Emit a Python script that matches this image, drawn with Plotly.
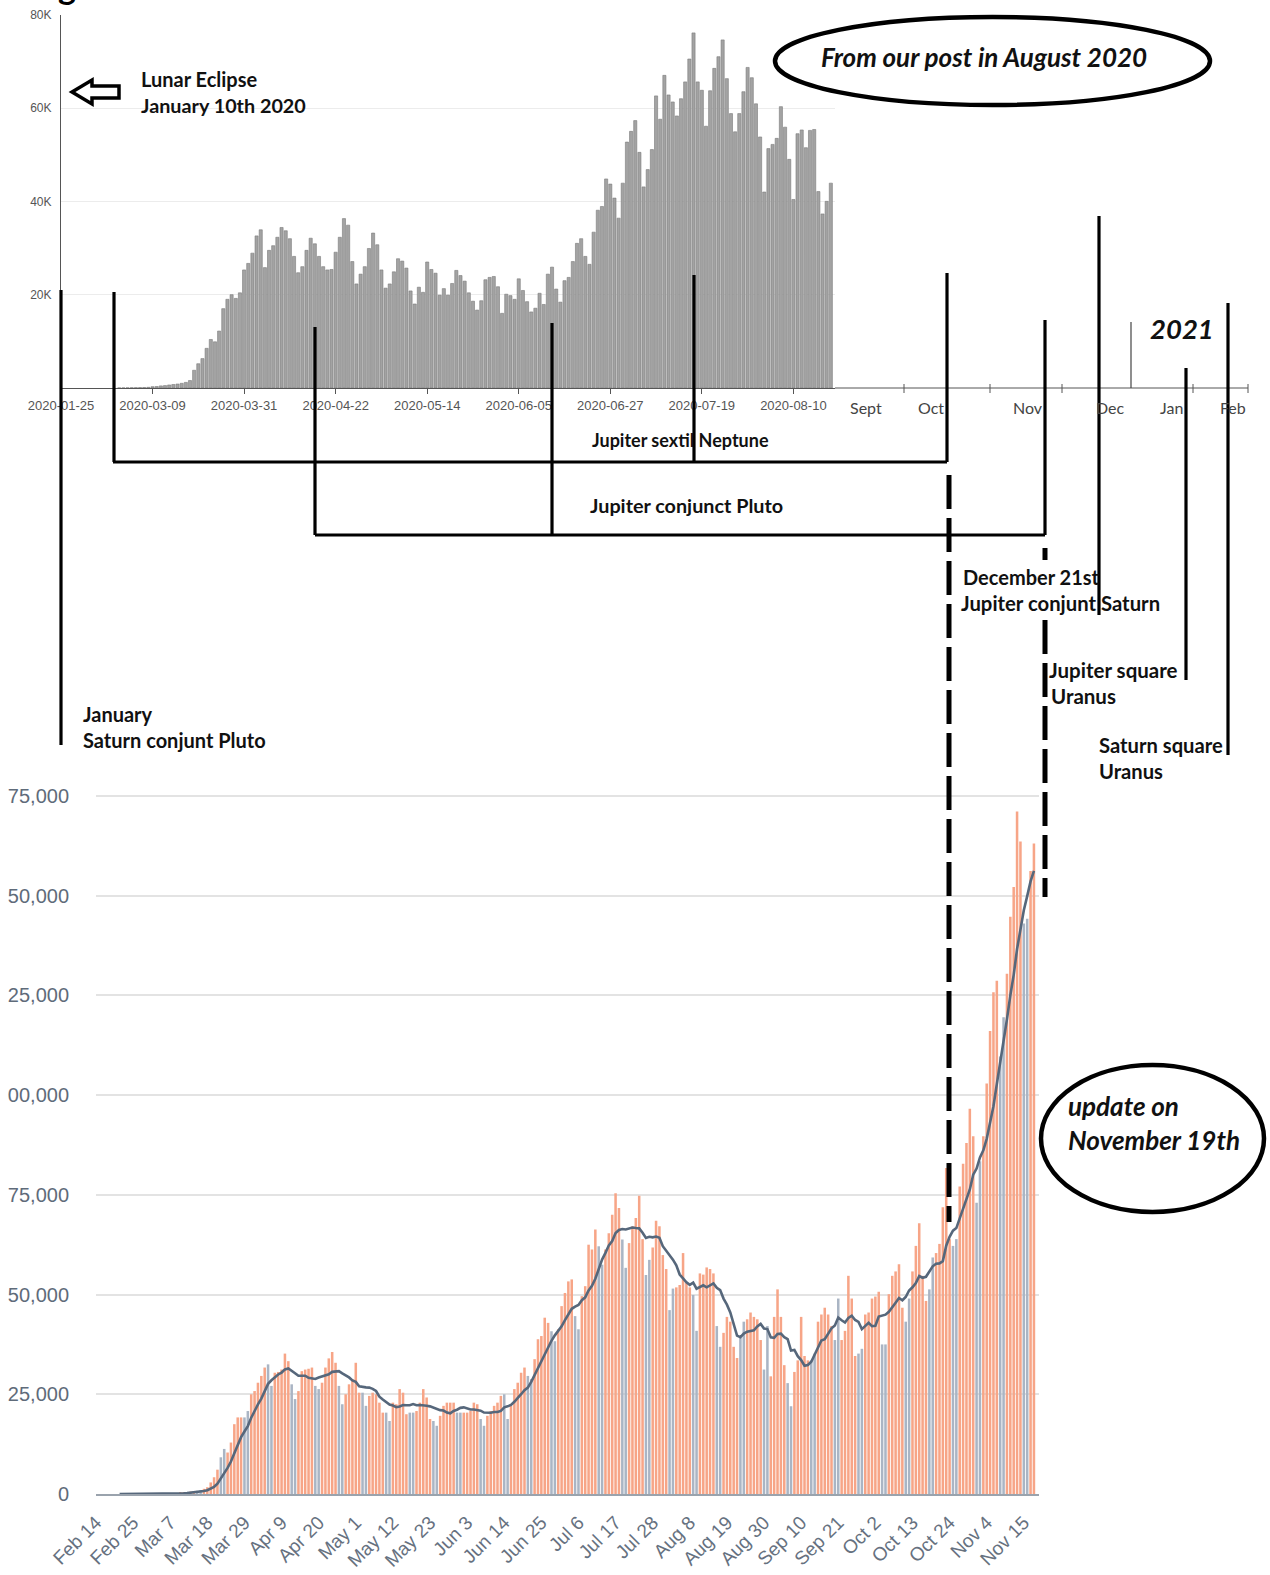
import pandas as pd
import plotly.graph_objects as go

W, H = 1270, 1575

# ---------------- data ----------------
# Top chart (post from August 2020): daily new cases, thousands, from 2020-03-01
top_start = "2020-03-01"
top_values_k = [
    0.02, 0.025, 0.04, 0.06, 0.07, 0.09, 0.11, 0.15, 0.28, 0.32,
    0.45, 0.52, 0.65, 0.75, 0.85, 1.0, 1.2,
    1.6, 3.8, 5.2, 6.3, 8.5, 10.4, 9.9, 12.2, 17, 19,
    20, 19.2, 20.4, 25.3, 26.7, 28.9, 32.6, 33.9, 25.8, 29.5,
    30.5, 32.3, 34.4, 33.7, 32, 28.2, 24.7, 26, 29.5, 32.1,
    30.9, 28.2, 26, 25.3, 25.4, 29.1, 32.3, 36.3, 34.9, 27.1,
    22.3, 24.4, 26, 29.9, 33.2, 30.7, 25.3, 21.4, 22.3, 24.9,
    27.7, 27.2, 25.7, 20.8, 18, 21.6, 20.5, 27, 25.4, 24.6,
    19.9, 21.3, 19.9, 22.4, 25.2, 24.1, 22.9, 20.4, 18.6, 16.7,
    18.7, 23.2, 23.7, 23.9, 21.7, 16, 20.1, 19.8, 19, 23.4,
    20.9, 18.5, 16.3, 17.1, 20.3, 17.9, 24.4, 25.9, 21.2, 18.4,
    23, 23.7, 27.1, 31, 32, 28.2, 26.5, 33.4, 38.1, 38.9,
    44.8, 43.7, 40.7, 36.4, 43.9,
    52.7, 55, 57.3, 50.5, 43.1, 46.8, 51.1, 62.6, 57.6, 67,
    62.8, 61.3, 58.3, 62, 65.6, 70.5, 76.1, 65.6, 63.8, 56.1,
    63.7, 68.5, 71, 74.6, 66.3, 58.8, 54.9, 58.8, 63.5, 68.7, 66.5,
    60.9, 53.8, 42, 51.3, 52.2, 53.5, 60.3, 55.9, 49, 40.4,
    54.5, 55.3, 51.5, 55.2, 55.4, 42.1, 37.3, 40, 43.9,
]
top_tick_dates = ["2020-02-16", "2020-03-09", "2020-03-31", "2020-04-22", "2020-05-14",
                  "2020-06-05", "2020-06-27", "2020-07-19", "2020-08-10"]
top_tick_labels = ["2020-01-25", "2020-03-09", "2020-03-31", "2020-04-22", "2020-05-14",
                   "2020-06-05", "2020-06-27", "2020-07-19", "2020-08-10"]
top_y_ticks = [20000, 40000, 60000, 80000]
top_y_labels = ["20K", "40K", "60K", "80K"]
extra_month_labels = ["Sept", "Oct", "Nov", "Dec", "Jan", "Feb"]

# Bottom chart (update on November 19th): daily new cases, thousands, from 2020-02-15
bottom_start = "2020-02-15"
bottom_values_k = [
    0, 0, 0, 0, 0, 0, 0, 0, 0, 0, 0, 0.005, 0.01, 0.01, 0.015,
    0.01, 0.02, 0.025, 0.035, 0.055, 0.07, 0.09, 0.11, 0.18, 0.28,
    0.38, 0.43, 0.6, 0.7, 0.8, 1.0, 1.3,
    1.7, 2.9, 4.2, 6.1, 9.2, 11.3, 10.4, 12.9, 17.5, 19.2,
    19.2, 19.2, 20.8, 25, 25.8, 27.9, 29.6, 31.7, 32.5, 27.1,
    30.4, 30.6, 31.2, 35.2, 33.3, 27.5, 23.8, 25.8, 30.8, 31.2,
    31.4, 31.7, 27.1, 26.3, 27.9, 31.7, 34, 35.6, 32.9, 27.1,
    22.5, 25, 27.5, 28.8, 32.9, 25.4, 25.4, 22.1, 24.6, 25.4,
    25, 22.9, 20.4, 20.4, 18.3, 22.9, 22.5, 26.3, 25.4, 20,
    20.4, 20.4, 20.8, 22.9, 26.3, 24.2, 18.8, 18.3, 17.1, 19.6,
    22.1, 22.9, 22.9, 22.9, 20.4, 20.4, 20.4, 20.4, 20.8, 22.9,
    22.5, 18.8, 17.1, 19.6, 20.8, 22.1, 22.9, 24.6, 25, 18.8,
    22.1, 26.3, 27.9, 30.4, 31.7, 29.6, 28.8, 33.8, 38.8, 39.6,
    44.2, 42.9, 40.8, 38.3, 41.3, 47.1, 50.4, 53.3, 53.8, 44.6,
    41.3, 49.6, 52.1, 62.5, 61.3, 66.3, 62.1, 57.5, 61.3, 65.4,
    70, 75.4, 71.7, 63.8, 56.7, 62.9, 67.1, 69.2,
    74.8, 63.9, 54.9, 58.7, 61.8, 68.5, 67.1, 59.9, 56.4, 46.1,
    51.5, 51.8, 52.4, 60.4, 53, 51.8, 49.9, 40.9, 55.3, 55,
    56.8, 56.4, 55.3, 42.1, 36.9, 40.4, 44.4, 43.2, 36.9, 34.1,
    39.2, 43.2, 43.8, 45.5, 44.4, 43.8, 38.6, 31.2, 42.1, 29.5,
    44.4, 51.3, 44.4, 32.3, 27.8, 22, 30.6, 33.5, 44.4, 34.6,
    33.5, 33.5, 35.2, 43.2, 45, 46.7, 45, 42.1, 38.6, 49,
    38.6, 40.9, 54.7, 49, 34.6, 35.2, 36.4, 45, 45.5, 49,
    49.5, 50.7, 37.5, 37.5, 50.1, 54.7, 55.8, 57.6, 46.7, 43.2,
    49, 55.8, 62.2, 67.9, 54.7, 48.4, 51.3, 59.3, 60.4, 62.7,
    71.9, 81.7, 63.9, 62.2, 63.9, 77.1, 82.8, 88, 96.6, 89.7,
    73, 83.4, 89.7, 102.9, 116.1, 125.8, 128.7, 109.7, 119.5, 130.4,
    144.7, 152.2, 171.1, 163.6, 143, 144.2, 156.2, 163.1,
]
bottom_y_ticks = [0, 25000, 50000, 75000, 100000, 125000, 150000, 175000]
bottom_y_labels = ["0", "25,000", "50,000", "75,000", "00,000", "25,000", "50,000", "75,000"]

# ---------------- helpers ----------------
def px(x):
    return x / W


def py(y):
    return 1 - y / H


top_dates = pd.date_range(top_start, periods=len(top_values_k), freq="D")
top_vals = [v * 1000 for v in top_values_k]

b_dates = pd.date_range(bottom_start, periods=len(bottom_values_k), freq="D")
b_series = pd.Series([v * 1000 for v in bottom_values_k], index=b_dates)
b_avg = b_series.rolling(7).mean()
is_low_day = b_dates.dayofweek.isin([6, 0])  # Sunday / Monday bars drawn grey

fig = go.Figure()

fig.add_trace(go.Bar(x=top_dates, y=top_vals, xaxis="x", yaxis="y",
                     marker=dict(color="#a3a3a3", line=dict(color="#7a7a7a", width=0.6))))

fig.add_trace(go.Bar(x=b_dates[~is_low_day], y=b_series[~is_low_day], xaxis="x2", yaxis="y2",
                     marker=dict(color="#f7a587", line=dict(width=0))))
fig.add_trace(go.Bar(x=b_dates[is_low_day], y=b_series[is_low_day], xaxis="x2", yaxis="y2",
                     marker=dict(color="#aab5c4", line=dict(width=0))))
fig.add_trace(go.Scatter(x=b_avg.index, y=b_avg.values, xaxis="x2", yaxis="y2", mode="lines",
                         line=dict(color="#56677b", width=2.6)))

tick_font = dict(family="Liberation Sans, Arial, sans-serif", size=12, color="#555555")

fig.update_layout(
    width=W, height=H,
    margin=dict(l=0, r=0, t=0, b=0, autoexpand=False),
    paper_bgcolor="white", plot_bgcolor="white",
    showlegend=False,
    barmode="overlay", bargap=0.25,
    xaxis=dict(domain=[px(61), px(835)], anchor="y", type="date", automargin=False,
               range=["2020-02-16", "2020-08-20"],
               tickvals=top_tick_dates, ticktext=top_tick_labels,
               tickfont=dict(family="Liberation Sans, Arial, sans-serif", size=13, color="#555555"),
               ticks="outside", ticklen=5, tickcolor="#555",
               showline=True, linecolor="#555", linewidth=1, showgrid=False, zeroline=False),
    yaxis=dict(domain=[py(388), py(14.7)], anchor="x", range=[0, 80000], automargin=False,
               tickvals=top_y_ticks, ticktext=top_y_labels, tickfont=tick_font,
               showline=True, linecolor="#555", linewidth=1.2,
               gridcolor="#ececec", gridwidth=1, zeroline=False, ticklabelstandoff=6),
    xaxis2=dict(domain=[px(96), px(1039)], anchor="y2", type="date", automargin=False,
                range=["2020-02-14", "2020-11-19 12:00"],
                tick0="2020-02-14", dtick=11 * 86400000, tickformat="%b %-d",
                tickangle=-45, ticklabelstandoff=8,
                tickfont=dict(family="Liberation Sans, Arial, sans-serif", size=19, color="#66717f"),
                showline=True, linecolor="#9aa3ad", linewidth=2, showgrid=False, zeroline=False),
    yaxis2=dict(domain=[py(1494), py(776)], anchor="x2", range=[0, 180000], automargin=False,
                tickvals=bottom_y_ticks, ticktext=bottom_y_labels,
                tickfont=dict(family="Liberation Sans, Arial, sans-serif", size=20, color="#5f6b7a"),
                gridcolor="#e3e3e3", gridwidth=1.5, zeroline=False, showline=False,
                ticklabelstandoff=26),
)

shapes = []


def seg(x0, y0, x1, y1, width=3.2, color="black", dash=None):
    ln = dict(color=color, width=width)
    if dash:
        ln["dash"] = dash
    shapes.append(dict(type="line", xref="paper", yref="paper",
                       x0=px(x0), y0=py(y0), x1=px(x1), y1=py(y1), line=ln))


# extended hand-drawn axis of the top chart
seg(835, 388, 1248, 388, width=1, color="#555")
for tx in [904, 990, 1062, 1193, 1248]:
    seg(tx, 384, tx, 393, width=1, color="#555")
seg(1131, 322, 1131, 388, width=1.2, color="#444")

# astrological bracket lines
for (x, y0, y1) in [(61, 290, 745), (114, 292, 462), (315, 327, 535), (552, 323, 535),
                    (694, 275, 462), (947, 273, 462), (1045, 320, 535), (1099, 216, 615),
                    (1186, 368, 680), (1228, 303, 755)]:
    seg(x, y0, x, y1)
seg(113, 462, 947, 462)
seg(315, 535, 1045, 535)

# dashed lines
seg(949, 475, 949, 1222, width=5, dash="34px,9px")
seg(1045, 548, 1045, 560, width=5)
seg(1045, 620, 1045, 897, width=5, dash="34px,9px")

# ellipses
shapes.append(dict(type="circle", xref="paper", yref="paper",
                   x0=px(775), x1=px(1210), y0=py(105), y1=py(17),
                   line=dict(color="black", width=4.5)))
shapes.append(dict(type="circle", xref="paper", yref="paper",
                   x0=px(1041), x1=px(1264), y0=py(1212), y1=py(1065),
                   line=dict(color="black", width=4.5)))

# hollow arrow
pts = [(72, 92), (92, 80), (92, 86), (119, 86), (119, 98), (92, 98), (92, 104)]
path = "M " + " L ".join(f"{px(a):.5f},{py(b):.5f}" for a, b in pts) + " Z"
shapes.append(dict(type="path", xref="paper", yref="paper", path=path,
                   fillcolor="white", line=dict(color="black", width=3.5)))

fig.update_layout(shapes=shapes)

ann = []


def text(t, x, y, size=20, bold=True, italic=False, anchor="left", color="#111", family="Lato, sans-serif"):
    s = t
    if bold:
        s = f"<b>{s}</b>"
    if italic:
        s = f"<i>{s}</i>"
    ann.append(dict(text=s, x=px(x), y=py(y), xref="paper", yref="paper",
                    xanchor=anchor, yanchor="middle", showarrow=False,
                    font=dict(family=family, size=size, color=color)))


text("Lunar Eclipse", 139, 79, size=20)
text("January 10th 2020", 139, 105, size=19.8)
text("From our post in August 2020", 984, 57, size=26, italic=True, anchor="center")
text("2021", 1182, 328, size=27.5, italic=True, anchor="center")
for lab, x in zip(extra_month_labels, [866, 931, 1028, 1110, 1171, 1233]):
    text(lab, x, 407, size=16, bold=False, anchor="center", color="#444")
text("Jupiter sextil Neptune", 590, 440, size=18)
text("Jupiter conjunct Pluto", 588, 505, size=19.8)
text("December 21st", 961, 577, size=20)
text("Jupiter conjunt Saturn", 959, 603, size=20.3)
text("Jupiter square", 1047, 670, size=20.5)
text("Uranus", 1049, 696, size=20.5)
text("January", 81, 714, size=20)
text("Saturn conjunt Pluto", 81, 740, size=20)
text("Saturn square", 1097, 745, size=20.2)
text("Uranus", 1097, 771, size=20.2)
text("update on", 1066, 1106, size=26, italic=True)
text("November 19th", 1066, 1140, size=26, italic=True)
ann.append(dict(text="<b>g</b>", x=px(67), y=py(8), xref="paper", yref="paper",
                xanchor="center", yanchor="bottom", showarrow=False,
                font=dict(family="Lato, sans-serif", size=34, color="black")))

fig.update_layout(annotations=ann)

fig.write_html("out.html", config={"displayModeBar": False},
               post_script="document.body.style.margin='0px';")
